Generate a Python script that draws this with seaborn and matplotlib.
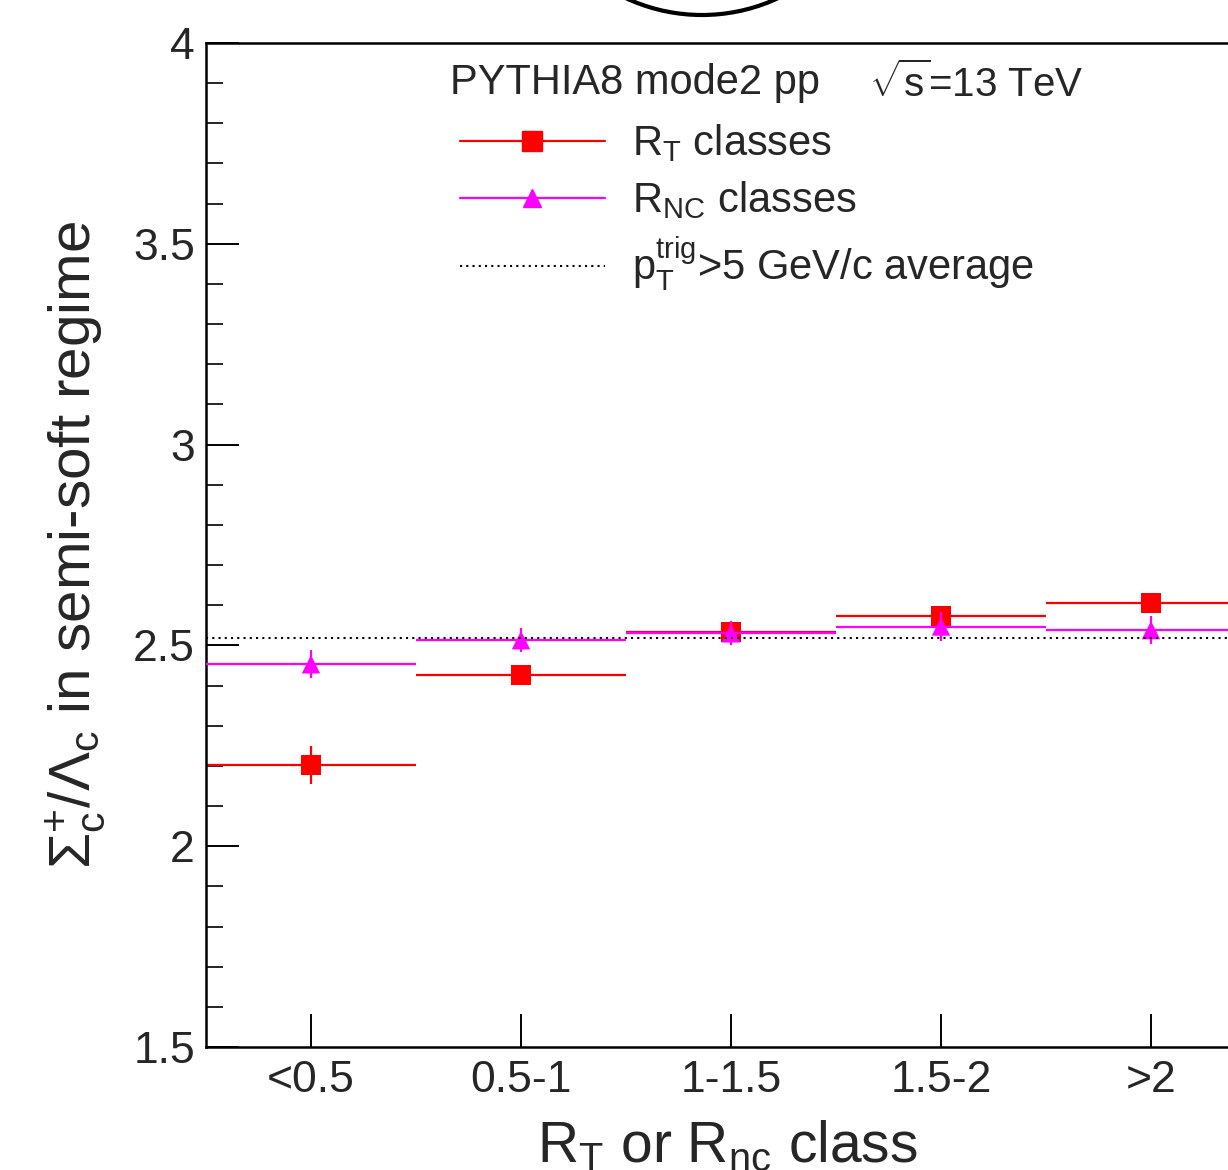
import numpy as np
import pandas as pd
import seaborn as sns
import matplotlib.pyplot as plt
from matplotlib.lines import Line2D
from matplotlib.patches import Ellipse
from matplotlib.ticker import MultipleLocator, StrMethodFormatter

# values
classes = ["<0.5", "0.5-1", "1-1.5", "1.5-2", ">2"]
rt_ratio = [2.202, 2.427, 2.533, 2.573, 2.605]
rt_err = [0.047, 0.02, 0.02, 0.02, 0.02]
rnc_ratio = [2.453, 2.513, 2.530, 2.547, 2.538]
rnc_err = [0.035, 0.03, 0.03, 0.037, 0.035]
avg_ratio = 2.518

#style: ROOT-like, helvetica-ish font
sns.set_style("ticks")
plt.rcParams["font.family"] = ["Liberation Sans", "DejaVu Sans"]
plt.rcParams["mathtext.fontset"] = "custom"
plt.rcParams["mathtext.rm"] = "Liberation Sans"
plt.rcParams["mathtext.it"] = "Liberation Sans:italic"
plt.rcParams["mathtext.bf"] = "Liberation Sans:bold"

df = pd.DataFrame({"pos": np.arange(len(classes)), "cls": classes,
                   "rt": rt_ratio, "rt_err": rt_err,
                   "rnc": rnc_ratio, "rnc_err": rnc_err})

fig = plt.figure(figsize=(12.28, 11.70), dpi=100)
ax = fig.add_axes([206/1228, 123/1170, 1050/1228, 1004/1170])

#R_T classes
ax.errorbar(df["pos"], df["rt"], xerr=0.5, yerr=df["rt_err"], fmt="none",
            ecolor="red", elinewidth=1.6, capsize=0, zorder=2)
sns.scatterplot(data=df, x="pos", y="rt", marker="s", s=215, color="red",
                edgecolor="none", ax=ax, zorder=3, legend=False)
#R_NC classes
ax.errorbar(df["pos"], df["rnc"], xerr=0.5, yerr=df["rnc_err"], fmt="none",
            ecolor="magenta", elinewidth=1.6, capsize=0, zorder=4)
sns.scatterplot(data=df, x="pos", y="rnc", marker="^", s=175, color="magenta",
                edgecolor="none", ax=ax, zorder=5, legend=False)
#average line
ax.axhline(avg_ratio, color="black", ls=(0, (1, 2)), lw=1.5, zorder=6)

ax.set(xlim=(-0.5, 4.5), ylim=(1.5, 4))
ax.set_xticks(df["pos"], classes)
ax.yaxis.set_major_locator(MultipleLocator(0.5))
ax.yaxis.set_minor_locator(MultipleLocator(0.1))
ax.yaxis.set_major_formatter(StrMethodFormatter("{x:g}"))
ax.tick_params(axis="both", which="major", direction="in", length=24, width=1.4,
               labelsize=32, color="black")
ax.tick_params(axis="y", which="minor", direction="in", length=12, width=1.4)
ax.tick_params(axis="y", pad=8)
ax.tick_params(axis="x", pad=9)
for sp in ax.spines.values():
    sp.set_linewidth(1.8)
    sp.set_color("black")

#peripherals
ax.set_ylabel(r"$\Sigma_{\mathrm{c}}^{+}/\Lambda_{\mathrm{c}}$ in semi-soft regime", fontsize=42)
ax.yaxis.set_label_coords(-0.093, 0.5)
ax.set_xlabel(r"R$_{\mathrm{T}}$ or R$_{\mathrm{nc}}$ class", fontsize=41)
ax.xaxis.set_label_coords(0.497, -0.072)

ax.text(0.2324, 0.960, "PYTHIA8 mode2 pp", transform=ax.transAxes,
        fontsize=30, va="center", ha="left")
ax.text(0.631, 0.960, r"$\sqrt{\mathrm{s}}$=13 TeV", transform=ax.transAxes,
        fontsize=29, va="center", ha="left")

handles = [Line2D([], [], color="red", marker="s", markersize=14.5, lw=1.6),
           Line2D([], [], color="magenta", marker="^", markersize=13, lw=1.6),
           Line2D([], [], color="black", ls=(0, (1, 2)), lw=1.5)]
labels = [r"R$_{\mathrm{T}}$ classes", r"R$_{\mathrm{NC}}$ classes",
          r"p$_{\mathrm{T}}^{\mathrm{trig}}$>5 GeV/c average"]
ax.legend(handles, labels, loc="upper left", bbox_to_anchor=(0.2419, 0.921),
          frameon=False, fontsize=30, handlelength=3.48, handletextpad=0.65,
          labelspacing=0.36, borderpad=0, borderaxespad=0)

#stray circle at the top edge of the picture
fig.patches.append(Ellipse((702/1228, 1 + 165/1170), 360/1228, 360/1170,
                           transform=fig.transFigure, fill=False, lw=3, ec="black"))

fig.savefig("out.png", dpi=100)
plt.close()
